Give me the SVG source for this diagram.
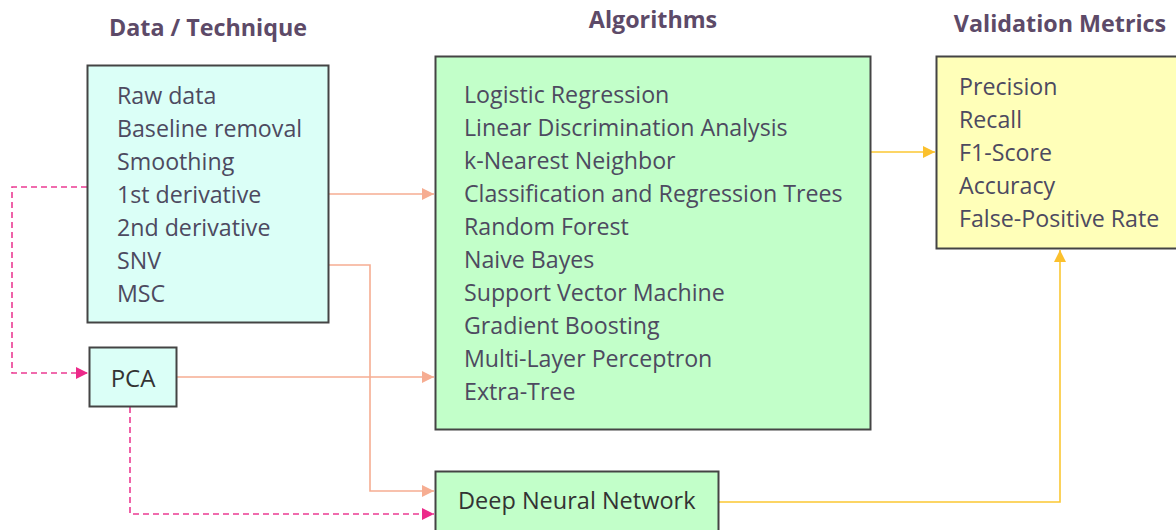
<svg xmlns="http://www.w3.org/2000/svg" width="1176" height="530" viewBox="0 0 1176 530">
<defs>
<style>
.title{font-family:"Open Sans","Noto Sans",sans-serif;font-weight:bold;font-size:23.3px;fill:#5d4a68;text-anchor:middle}
.t{font-family:"Open Sans","Noto Sans",sans-serif;font-size:23.2px;fill:#4d4a60}
.box{stroke:#444;stroke-width:2}
.sal{fill:none;stroke:#f6ad92;stroke-width:1.6}
.pink{fill:none;stroke:#ec3b93;stroke-width:1.6;stroke-dasharray:6 4}
.yel{fill:none;stroke:#fbc732;stroke-width:1.6}
</style>
<marker id="aS" viewBox="0 0 10 10" refX="10" refY="5" markerWidth="12" markerHeight="12" markerUnits="userSpaceOnUse" orient="auto"><path d="M0,0 L10,5 L0,10 Z" fill="#f6ad92"/></marker>
<marker id="aP" viewBox="0 0 10 10" refX="10" refY="5" markerWidth="12" markerHeight="12" markerUnits="userSpaceOnUse" orient="auto"><path d="M0,0 L10,5 L0,10 Z" fill="#ec2a8a"/></marker>
<marker id="aY" viewBox="0 0 10 10" refX="10" refY="5" markerWidth="12" markerHeight="12" markerUnits="userSpaceOnUse" orient="auto"><path d="M0,0 L10,5 L0,10 Z" fill="#fbc02d"/></marker>
</defs>
<rect width="1176" height="530" fill="#fff"/>
<text class="title" x="208" y="36">Data / Technique</text>
<text class="title" x="653" y="28">Algorithms</text>
<text class="title" x="1060" y="32">Validation Metrics</text>

<g id="connectors">
<path class="sal" d="M329,194 H434" marker-end="url(#aS)"/>
<path class="sal" d="M329,265 H370 V491 H434" marker-end="url(#aS)"/>
<path class="sal" d="M177,377 H434" marker-end="url(#aS)"/>
<path class="pink" d="M87,187 H12 V373 H88" marker-end="url(#aP)"/>
<path class="pink" d="M130,407 V514 H434" marker-end="url(#aP)"/>
<path class="yel" d="M871,152 H935" marker-end="url(#aY)"/>
<path class="yel" d="M719,502 H1060 V250" marker-end="url(#aY)"/>
</g>

<g id="data">
<rect class="box" x="87.5" y="65.5" width="241" height="257" fill="#dbfff7"/>
<text class="t" x="117" y="104">Raw data</text>
<text class="t" x="117" y="137">Baseline removal</text>
<text class="t" x="117" y="170">Smoothing</text>
<text class="t" x="117" y="203">1st derivative</text>
<text class="t" x="117" y="236">2nd derivative</text>
<text class="t" x="117" y="269">SNV</text>
<text class="t" x="117" y="302">MSC</text>
</g>

<g id="pca">
<rect class="box" x="89.5" y="347.5" width="87" height="59" fill="#dbfff7"/>
<text class="t" x="133" y="387" text-anchor="middle" style="fill:#333;font-size:24px">PCA</text>
</g>

<g id="algorithms">
<rect class="box" x="435.5" y="56.5" width="435" height="373" fill="#c2ffc9"/>
<text class="t" x="464" y="103">Logistic Regression</text>
<text class="t" x="464" y="136">Linear Discrimination Analysis</text>
<text class="t" x="464" y="169">k-Nearest Neighbor</text>
<text class="t" x="464" y="202">Classification and Regression Trees</text>
<text class="t" x="464" y="235">Random Forest</text>
<text class="t" x="464" y="268">Naive Bayes</text>
<text class="t" x="464" y="301">Support Vector Machine</text>
<text class="t" x="464" y="334">Gradient Boosting</text>
<text class="t" x="464" y="367">Multi-Layer Perceptron</text>
<text class="t" x="464" y="400">Extra-Tree</text>
</g>

<g id="dnn">
<rect class="box" x="435.5" y="471.5" width="283" height="70" fill="#c2ffc9"/>
<text class="t" x="458" y="509" style="fill:#333;font-size:23.5px">Deep Neural Network</text>
</g>

<g id="metrics">
<rect class="box" x="936.5" y="56.5" width="250" height="192" fill="#ffffb9"/>
<text class="t" x="959" y="95">Precision</text>
<text class="t" x="959" y="128">Recall</text>
<text class="t" x="959" y="161">F1-Score</text>
<text class="t" x="959" y="194">Accuracy</text>
<text class="t" x="959" y="227">False-Positive Rate</text>
</g>
</svg>
